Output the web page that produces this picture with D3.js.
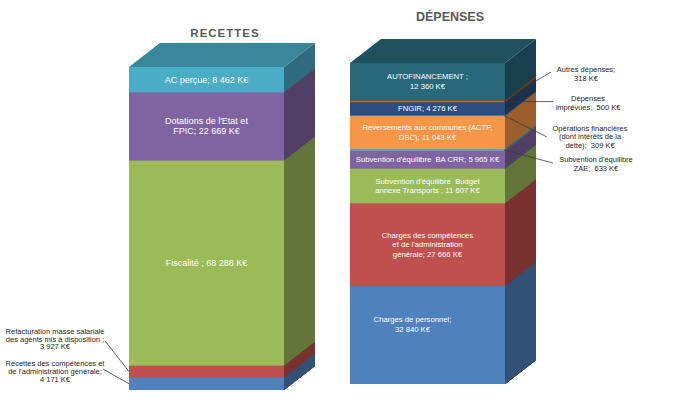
<!DOCTYPE html>
<html>
<head>
<meta charset="utf-8">
<title>Recettes / Dépenses</title>
<style>
  body { margin: 0; background: #fff; }
  svg { display: block; font-family: "Liberation Sans", Arial, sans-serif; }
  text { white-space: pre; }
</style>
</head>
<body>
<svg></svg>
<script src="https://d3js.org/d3.v7.min.js"></script>
<script>
// the two stacks
var stacks = ["RECETTES", "DÉPENSES"];

// recettes, bottom to top (K€)
var recCategories = ["Recettes des compétences et de l'administration générale",
    "Refacturation masse salariale des agents mis à disposition",
    "Fiscalité", "Dotations de l'Etat et FPIC", "AC perçue"];
var recValues = [4171, 3927, 68288, 22669, 8462];
var recLabels = ["Recettes des compétences et|de l'administration générale;|{v} K€",
    "Refacturation masse salariale|des agents mis à disposition ;|{v} K€",
    "Fiscalité ; {v} K€", "Dotations de l'Etat et|FPIC; {v} K€", "AC perçue; {v} K€"];
var recColors = ["#4f81bd", "#c0504d", "#9bbb59", "#8064a2", "#4bacc6"];

// depenses, bottom to top (K€)
var depCategories = ["Charges de personnel",
    "Charges des compétences et de l'administration générale",
    "Subvention d'équilibre Budget annexe Transports",
    "Subvention d'équilibre BA CRR", "Subvention d'équilibre ZAE",
    "Reversements aux communes (ACTP, DSC)",
    "Opérations financières (dont intérêts de la dette)",
    "FNGIR", "Dépenses imprévues", "Autres dépenses", "AUTOFINANCEMENT"];
var depValues = [32840, 27666, 11607, 5965, 633, 11043, 309, 4276, 500, 318, 12360];
var depLabels = ["Charges de personnel;|{v} K€",
    "Charges des compétences|et de l'administration|générale; {v} K€",
    "Subvention d'équilibre  Budget|annexe Transports ; {v} K€",
    "Subvention d'équilibre  BA CRR; {v} K€",
    "Subvention d'équilibre|ZAE;  {v} K€",
    "Reversements aux communes (ACTP,|DSC); {v} K€",
    "Opérations financières|(dont intérêts de la|dette);  {v} K€",
    "FNGIR; {v} K€", "Dépenses|imprévues;  {v} K€", "Autres dépenses;|{v} K€",
    "AUTOFINANCEMENT ;|{v} K€"];
var depColors = ["#4f81bd", "#c0504d", "#9bbb59", "#8064a2", "#4bacc6", "#f79646",
    "#3d86a6", "#2c4d7e", "#b0682a", "#7a5a22", "#28687a"];

var W = 692, H = 404;
var svg = d3.select("svg").attr("width", W).attr("height", H);

var fmt = d3.formatLocale({decimal: ",", thousands: " ", grouping: [3], currency: ["", ""]}).format(",d");

// front faces of the two stacks
var x = d3.scaleBand().domain(stacks).range([129, 505]).paddingInner(0.2986).paddingOuter(0);
var frame = {
    "RECETTES": {bottom: 390, top: 67, fs: 9, lh: 10},
    "DÉPENSES": {bottom: 384, top: 63, fs: 7.7, lh: 9.6}
};
var dx = 31, dy = -24;   // depth of the 3d block

// labels placed outside the block, with a leader line
var annot = {
    "Refacturation masse salariale des agents mis à disposition": {x: 55, y: 331.5, lh: 7.6, sx: 105, sy: 341, side: "left"},
    "Recettes des compétences et de l'administration générale": {x: 55, y: 363.5, lh: 8.2, sx: 103, sy: 369, side: "left"},
    "Autres dépenses": {x: 586, y: 69, lh: 9, sx: 551, sy: 72, side: "right"},
    "Dépenses imprévues": {x: 588, y: 98.5, lh: 8.7, sx: 553, sy: null, side: "right"},
    "Opérations financières (dont intérêts de la dette)": {x: 590, y: 128, lh: 8.6, sx: 547, sy: 137, side: "right"},
    "Subvention d'équilibre ZAE": {x: 596, y: 159.5, lh: 8.7, sx: 553, sy: 163, side: "right"}
};
// small nudges of the inside labels
var shift = {"Charges de personnel": {x: -15, y: -10.5}};

function drawStack(name, cats, vals, cols, labels) {
    var f = frame[name];
    var y = d3.scaleLinear().domain([0, d3.sum(vals)]).range([f.bottom, f.top]);
    var x0 = x(name), x1 = x0 + x.bandwidth();
    var ends = d3.cumsum(vals);
    var segs = vals.map(function(v, i) {
        return {cat: cats[i], v: v, col: cols[i], label: labels[i], y0: ends[i] - v, y1: ends[i]};
    });
    var g = svg.append("g");

    // painted from top down, each face down to the base: no seams
    var order = segs.slice().reverse();
    g.selectAll("rect.front").data(order).enter().append("rect")
        .attr("class", "front")
        .attr("x", x0).attr("y", function(d) { return y(d.y1); })
        .attr("width", x.bandwidth())
        .attr("height", function(d) { return y(0) - y(d.y1); })
        .attr("fill", function(d) { return d.col; });

    g.selectAll("path.side").data(order).enter().append("path")
        .attr("class", "side")
        .attr("d", function(d) {
            var t = y(d.y1), b = y(0);
            return "M" + x1 + "," + t + "L" + (x1 + dx) + "," + (t + dy) +
                "L" + (x1 + dx) + "," + (b + dy) + "L" + x1 + "," + b + "Z";
        })
        .attr("fill", function(d) { return d3.color(d.col).darker(1.3); });

    var top = segs[segs.length - 1], yt = y(top.y1);
    g.append("path")
        .attr("d", "M" + x0 + "," + yt + "L" + (x0 + dx) + "," + (yt + dy) + "L" + (x1 + dx) + "," +
            (yt + dy) + "L" + x1 + "," + yt + "Z")
        .attr("fill", d3.color(top.col).darker(0.7));

    segs.forEach(function(d) {
        var lines = d.label.replace("{v}", fmt(d.v)).split("|");
        var mid = (y(d.y0) + y(d.y1)) / 2;
        var a = annot[d.cat];
        if (a) {
            var tx = a.side == "left" ? x0 : x1 - 1;
            g.append("line")
                .attr("x1", a.sx).attr("y1", a.sy == null ? mid : a.sy)
                .attr("x2", tx).attr("y2", mid)
                .attr("stroke", "#3a3a3a").attr("stroke-width", 0.8);
            g.append("text")
                .attr("text-anchor", "middle").attr("font-size", 7.5).attr("fill", "#262626")
                .selectAll("tspan").data(lines).enter().append("tspan")
                .attr("x", a.x).attr("y", function(l, i) { return a.y + i * a.lh; })
                .attr("dominant-baseline", "central")
                .text(function(l) { return l; });
        } else {
            var s = shift[d.cat] || {x: 0, y: 0};
            var cy = mid + s.y - (lines.length - 1) * f.lh / 2;
            g.append("text")
                .attr("text-anchor", "middle").attr("font-size", f.fs).attr("fill", "#fff")
                .selectAll("tspan").data(lines).enter().append("tspan")
                .attr("x", (x0 + x1) / 2 + s.x).attr("y", function(l, i) { return cy + i * f.lh; })
                .attr("dominant-baseline", "central")
                .text(function(l) { return l; });
        }
    });
}

drawStack("RECETTES", recCategories, recValues, recColors, recLabels);
drawStack("DÉPENSES", depCategories, depValues, depColors, depLabels);

// titles
svg.append("text").attr("x", 225).attr("y", 37).attr("text-anchor", "middle")
    .attr("font-size", 11.5).attr("font-weight", "bold").attr("letter-spacing", 1)
    .attr("fill", "#595959").text(stacks[0]);
svg.append("text").attr("x", 450).attr("y", 21).attr("text-anchor", "middle")
    .attr("font-size", 12.5).attr("font-weight", "bold")
    .attr("fill", "#595959").text(stacks[1]);
</script>
</body>
</html>
